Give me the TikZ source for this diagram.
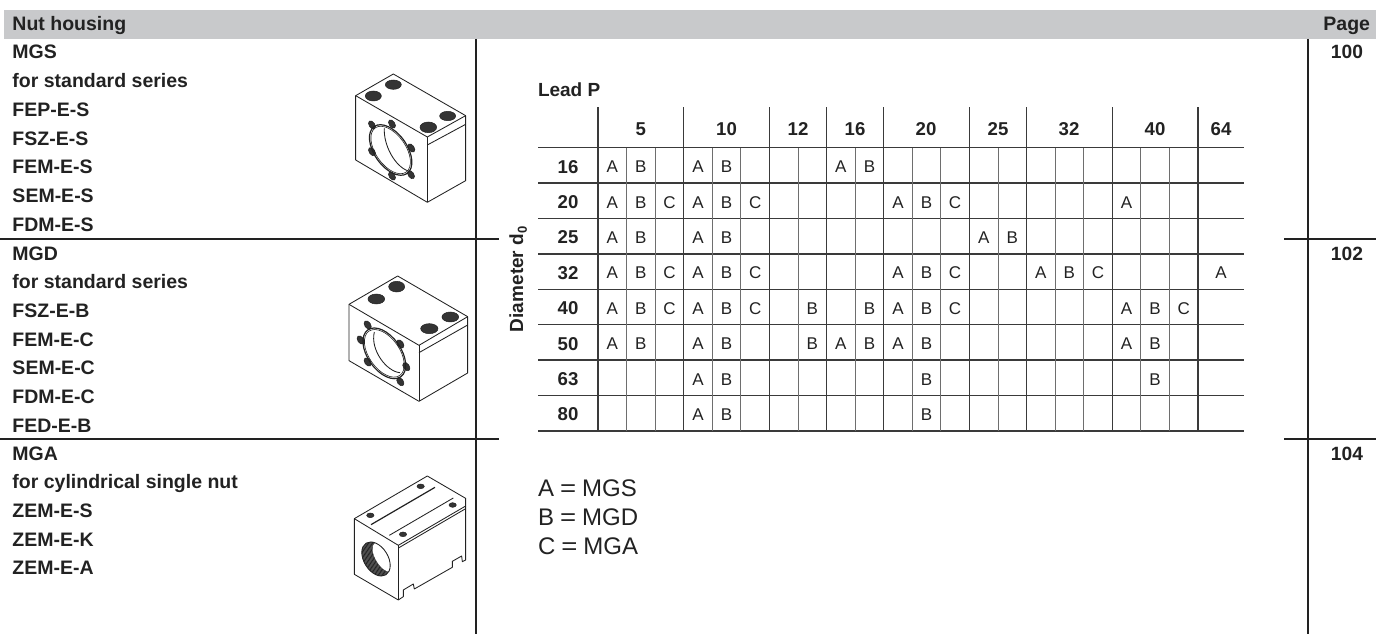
\documentclass[tikz,border=0pt]{standalone}
\usepackage{fontspec}
\setmainfont{Liberation Sans}
\definecolor{ink}{HTML}{222222}
\definecolor{bar}{HTML}{C8C9CB}
\definecolor{majorline}{HTML}{3A3A3A}
\definecolor{minorline}{HTML}{6E6E6E}
\newcommand{\fs}[1]{\fontsize{#1}{#1}\selectfont}
\tikzset{
  lbl/.style={anchor=base west,inner sep=0pt,outer sep=0pt,text=ink,font=\fs{19.5}\bfseries},
  hdr/.style={anchor=base,inner sep=0pt,outer sep=0pt,text=ink,font=\fs{18.6}\bfseries},
  cellt/.style={anchor=base,inner sep=0pt,outer sep=0pt,text=ink,font=\fs{17}},
  leg/.style={anchor=base west,inner sep=0pt,outer sep=0pt,text=ink,font=\fs{24}},
  rule/.style={draw=ink,line width=1.1pt},
  gmaj/.style={draw=majorline,line width=1.3pt},
  gmin/.style={draw=minorline,line width=0.9pt},
  part/.style={draw=ink,line width=0.85pt,line join=round,fill=white},
  pline/.style={draw=ink,line width=0.85pt,line join=round},
  hole/.style={draw=ink,fill=ink!92!white,line width=0.5pt},
  zoomed/.style={shift={#1},x=0.3333pt,y=-0.3333pt},
}
\newcommand{\cellrow}[2]{%
  \foreach \c/\t in {#2}{%
    \pgfmathsetmacro{\cx}{\c==21 ? 1221 : 598+28.57*\c+14.28}%
    \pgfmathsetmacro{\cy}{172.7+35.4*#1}%
    \node[cellt,name=cell#1x\c] at (\cx,\cy) {\t};
  }%
}
\newcommand{\wideeq}{\kern6pt\scalebox{1.15}[1]{=}\kern6pt}
\begin{document}
\begin{tikzpicture}[x=1pt,y=-1pt]
\useasboundingbox (0,0) rectangle (1376,634);
\fill[bar] (4,10) rectangle (1376,39);
\node[lbl] (title) at (12.5,30.7) {Nut housing};
\node[lbl,anchor=base east] (pagehead) at (1370,30.7) {Page};

% panel rules
\draw[rule] (476,39) -- (476,634);
\draw[rule] (1308,39) -- (1308,634);
\draw[rule] (0,239) -- (499,239);
\draw[rule] (0,439) -- (499,439);
\draw[rule] (1284,239) -- (1376,239);
\draw[rule] (1284,439) -- (1376,439);

% left labels
\foreach \t [count=\i from 0] in {MGS,for standard series,FEP-E-S,FSZ-E-S,FEM-E-S,SEM-E-S,FDM-E-S}{
  \node[lbl,name=la\i] at (12.5,59+28.7*\i) {\t};}
\foreach \t [count=\i from 0] in {MGD,for standard series,FSZ-E-B,FEM-E-C,SEM-E-C,FDM-E-C,FED-E-B}{
  \node[lbl,name=lb\i] at (12.5,260+28.7*\i) {\t};}
\foreach \t [count=\i from 0] in {MGA,for cylindrical single nut,ZEM-E-S,ZEM-E-K,ZEM-E-A}{
  \node[lbl,name=lc\i] at (12.5,460+28.7*\i) {\t};}

% page numbers
\node[hdr,font=\fs{19.2}\bfseries] (pa) at (1347,59) {100};
\node[hdr,font=\fs{19.2}\bfseries] (pb) at (1347,260) {102};
\node[hdr,font=\fs{19.2}\bfseries] (pc) at (1347,460) {104};

% table
\node[lbl,font=\fs{19}\bfseries] (lead) at (538,96.7) {Lead P};
\node[lbl,rotate=90,font=\fs{19}\bfseries] (diam) at (523,332) {Diameter d\raisebox{-0.2em}{\fs{13}0}};
\foreach \j in {0,...,8}{
  \draw[gmaj] (538,147.7+35.4*\j) -- (1244,147.7+35.4*\j);}
\foreach \c in {1,2,4,5,7,9,11,12,14,16,17,19,20}{
  \draw[gmin] (598+28.57*\c,147.7) -- (598+28.57*\c,431);}
\foreach \c in {0,3,6,8,10,13,15,18,21}{
  \draw[gmaj] (598+28.57*\c,107.3) -- (598+28.57*\c,431);}
\foreach \t/\x in {5/640.8,10/726.5,12/798,16/855,20/926,25/998,32/1069,40/1155,64/1221}{
  \node[hdr,name=h\t] at (\x,135.7) {\t};}
\foreach \t [count=\j from 0] in {16,20,25,32,40,50,63,80}{
  \node[hdr,name=r\t] at (568,173+35.4*\j) {\t};}
\cellrow{0}{0/A,1/B,3/A,4/B,8/A,9/B}
\cellrow{1}{0/A,1/B,2/C,3/A,4/B,5/C,10/A,11/B,12/C,18/A}
\cellrow{2}{0/A,1/B,3/A,4/B,13/A,14/B}
\cellrow{3}{0/A,1/B,2/C,3/A,4/B,5/C,10/A,11/B,12/C,15/A,16/B,17/C,21/A}
\cellrow{4}{0/A,1/B,2/C,3/A,4/B,5/C,7/B,9/B,10/A,11/B,12/C,18/A,19/B,20/C}
\cellrow{5}{0/A,1/B,3/A,4/B,7/B,8/A,9/B,10/A,11/B,18/A,19/B}
\cellrow{6}{3/A,4/B,11/B,19/B}
\cellrow{7}{3/A,4/B,11/B}

% legend
\node[leg] (lega) at (538,496.7) {A\wideeq MGS};
\node[leg] (legb) at (538,525) {B\wideeq MGD};
\node[leg] (legc) at (538,554) {C\wideeq MGA};

% housing MGS
\begin{scope}[zoomed={(345,65)}]
\draw[part] (32,92) -- (145,27) -- (362,152) -- (362,347) -- (247,412) -- (32,285) -- cycle;
\draw[pline] (32,92) -- (247,216) -- (362,152);
\draw[pline] (247,216) -- (247,412);
\draw[pline] (247,240) -- (362,178);
\foreach \x/\y/\a/\b in {85/93/24/15,145/59/24/14,250/187/25/16,308/153/24/14}{
  \fill[hole] (\x,\y) circle[x radius=\a,y radius=\b];}
\foreach \x/\y in {81/180,141/177,199/249,198/329,141/333,81/260}{
  \fill[hole] (\x,\y) circle[x radius=14,y radius=8.5,rotate=-55];}
\draw[pline,line width=1.2pt] (137,255) circle[x radius=86,y radius=49,rotate=-55];
\draw[pline,line width=0.6pt] (137,255) circle[x radius=81,y radius=45,rotate=-55];
\draw[pline] (118,190) .. controls (115,240) and (150,305) .. (190,318);
\end{scope}

% housing MGD
\begin{scope}[zoomed={(345,270)}]
\draw[part] (12,103) -- (158,18) -- (368,140) -- (368,309) -- (222,394) -- (12,272) -- cycle;
\draw[pline] (12,103) -- (222,226) -- (368,140);
\draw[pline] (222,226) -- (222,394);
\draw[pline] (222,248) -- (368,165);
\foreach \x/\y/\a/\b in {94/87/25/15,155/50/24/16,253/176/26/15,316/141/25/15}{
  \fill[hole] (\x,\y) circle[x radius=\a,y radius=\b];}
\foreach \x/\y in {68/165,47/210,68/276,166/222,184/290,166/335}{
  \fill[hole] (\x,\y) circle[x radius=14,y radius=9,rotate=-55];}
\draw[pline,line width=1.2pt] (118,250) circle[x radius=86,y radius=50,rotate=-55];
\draw[pline,line width=0.6pt] (118,250) circle[x radius=81,y radius=46,rotate=-55];
\draw[pline] (88,186) .. controls (75,240) and (125,305) .. (165,308);
\end{scope}

% housing MGA
\begin{scope}[zoomed={(345,480)}]
\draw[part] (28,116) -- (247,-12) -- (362,55) -- (362,240) -- (352,245) -- (350,228) -- (322,244) -- (322,262) -- (208,327) -- (205,312) -- (175,330) -- (175,350) -- (160,360) -- (28,283) -- cycle;
\draw[pline] (28,116) -- (160,196) -- (362,78);
\draw[pline] (160,196) -- (160,360);
\draw[pline] (162,203) -- (362,86);
\draw[pline,line width=1.2pt] (78,134) -- (270,22);
\draw[pline] (133,166) -- (325,54);
\foreach \x/\y in {76/106,227/19,174/163,323/75}{
  \fill[hole] (\x,\y) circle[x radius=11,y radius=7];}
\begin{scope}
\clip (93,237) circle[x radius=56,y radius=36,rotate=-58];
\fill[ink!65] (30,170) rectangle (150,300);
\foreach \k in {0,...,34}{
  \draw[ink,line width=0.7pt] (30+4*\k,170) -- (60+4*\k,300);}
\fill[white] (116,232) circle[x radius=50,y radius=24,rotate=-58];
\end{scope}
\draw[pline] (93,237) circle[x radius=56,y radius=36,rotate=-58];
\end{scope}
\end{tikzpicture}
\end{document}
